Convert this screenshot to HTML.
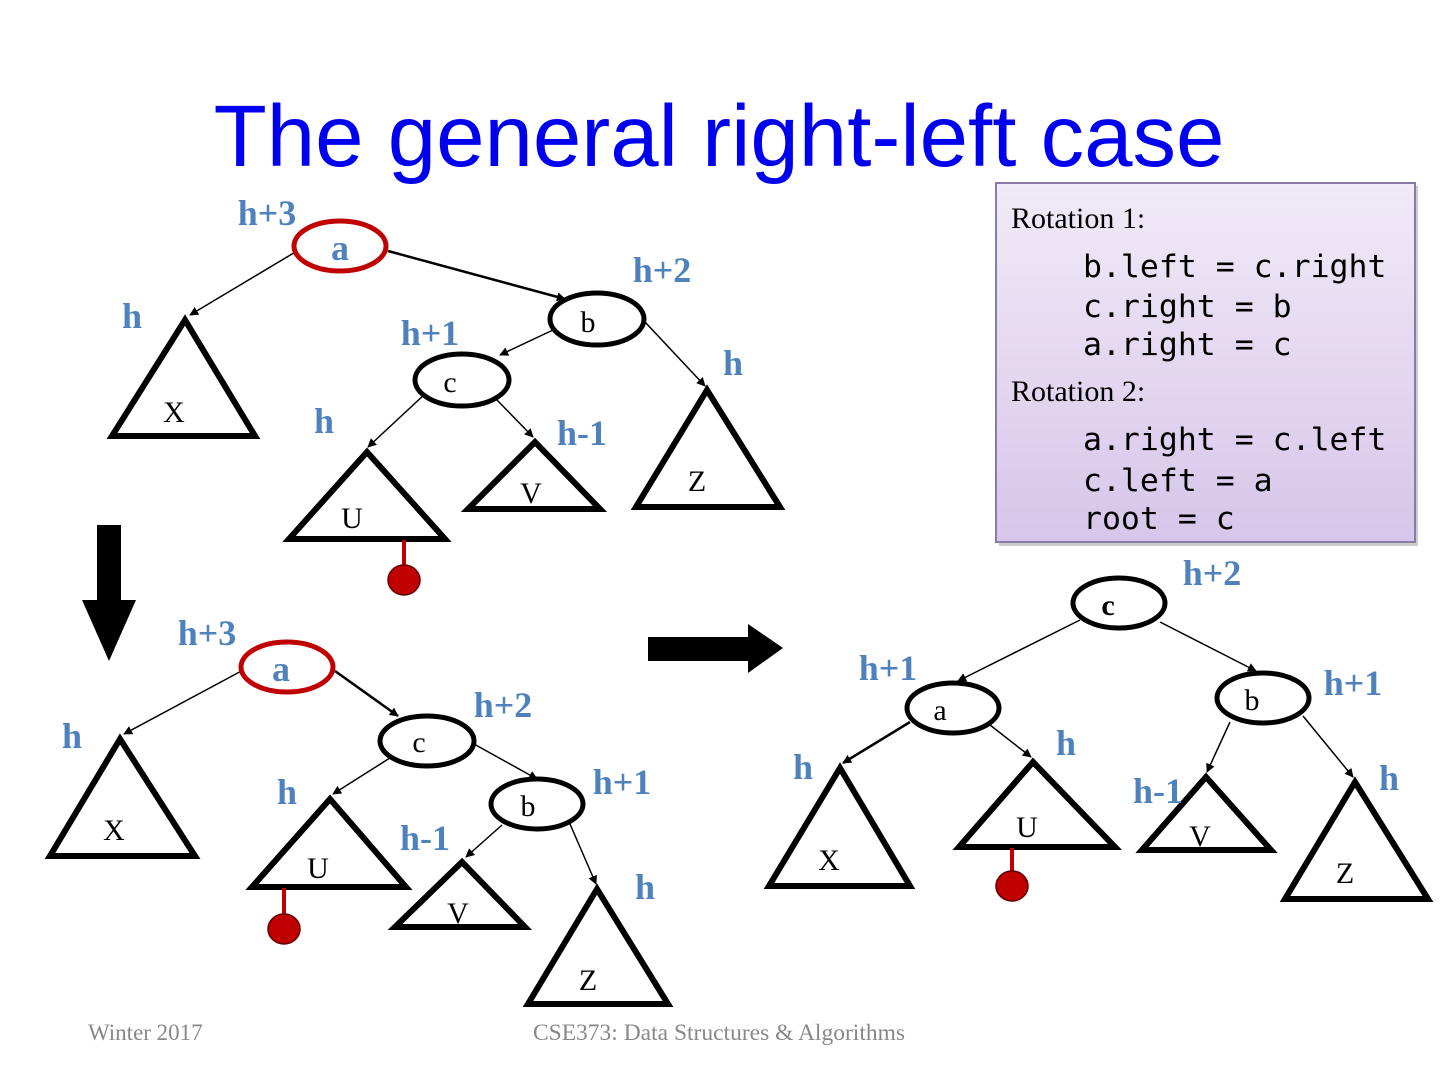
<!DOCTYPE html>
<html><head><meta charset="utf-8"><style>
html,body{margin:0;padding:0;background:#fff}
svg{display:block}
.t{font-family:"Liberation Serif",serif;font-size:30px;fill:#000}
.l{font-family:"Liberation Serif",serif;font-weight:bold;font-size:36px;fill:#4f81bd}
.m{font-family:"DejaVu Sans Mono","Liberation Mono",monospace;font-size:31.5px;fill:#000}
</style></head><body>
<svg width="1440" height="1080" viewBox="0 0 1440 1080" xmlns="http://www.w3.org/2000/svg">
<defs>
<marker id="ar" viewBox="0 0 10 10" refX="9" refY="5" markerWidth="9" markerHeight="9" orient="auto" markerUnits="userSpaceOnUse"><path d="M0,0 L10,5 L0,10 z" fill="#000"/></marker>
<linearGradient id="g" x1="0" y1="0" x2="0" y2="1"><stop offset="0" stop-color="#f1eaf7"/><stop offset="1" stop-color="#d6c6ea"/></linearGradient>
</defs>
<text x="719" y="166" text-anchor="middle" font-family="Liberation Sans,sans-serif" font-size="87" fill="#0000f0">The general right-left case</text>

<rect x="999" y="186" width="419" height="360" fill="#999" opacity="0.5"/>
<rect x="996" y="183" width="419" height="359" fill="url(#g)" stroke="#8a7aa8" stroke-width="2"/>
<text x="1011" y="228" class="t" font-size="35">Rotation 1:</text>
<text x="1083" y="277" class="m">b.left = c.right</text>
<text x="1083" y="317" class="m">c.right = b</text>
<text x="1083" y="355" class="m">a.right = c</text>
<text x="1011" y="401" class="t" font-size="35">Rotation 2:</text>
<text x="1083" y="450" class="m">a.right = c.left</text>
<text x="1083" y="491" class="m">c.left = a</text>
<text x="1083" y="529" class="m">root = c</text>

<g stroke="#000" stroke-width="1.5" fill="none">
<line x1="302" y1="248" x2="190" y2="315" marker-end="url(#ar)"/>
<line x1="388" y1="251" x2="565" y2="299" stroke-width="2.5" marker-end="url(#ar)"/>
<line x1="553" y1="330" x2="500" y2="355" marker-end="url(#ar)"/>
<line x1="645" y1="322" x2="705" y2="386" marker-end="url(#ar)"/>
<line x1="425" y1="394" x2="368" y2="447" marker-end="url(#ar)"/>
<line x1="496" y1="399" x2="533" y2="437" marker-end="url(#ar)"/>
<line x1="247" y1="668" x2="124" y2="734" marker-end="url(#ar)"/>
<line x1="335" y1="671" x2="398" y2="716" stroke-width="2.5" marker-end="url(#ar)"/>
<line x1="393" y1="756" x2="333" y2="794" marker-end="url(#ar)"/>
<line x1="474" y1="744" x2="537" y2="779" marker-end="url(#ar)"/>
<line x1="502" y1="825" x2="466" y2="857" marker-end="url(#ar)"/>
<line x1="570" y1="824" x2="596" y2="884" marker-end="url(#ar)"/>
<line x1="1080" y1="620" x2="958" y2="681" marker-end="url(#ar)"/>
<line x1="1160" y1="622" x2="1256" y2="671" marker-end="url(#ar)"/>
<line x1="910" y1="722" x2="843" y2="763" stroke-width="2.5" marker-end="url(#ar)"/>
<line x1="990" y1="725" x2="1031" y2="757" marker-end="url(#ar)"/>
<line x1="1230" y1="722" x2="1207" y2="772" marker-end="url(#ar)"/>
<line x1="1303" y1="716" x2="1353" y2="777" marker-end="url(#ar)"/>
</g>

<g stroke="#000" stroke-width="6" fill="#fff" stroke-linejoin="miter">
<polygon points="185,320 112,436 255,436"/>
<polygon points="367,452 289,539 445,539"/>
<polygon points="535,442 468,509 600,509"/>
<polygon points="707,390 636,507 780,507"/>
<polygon points="120,739 50,856 195,856"/>
<polygon points="330,799 252,887 406,887"/>
<polygon points="462,862 395,927 525,927"/>
<polygon points="597,889 528,1004 668,1004"/>
<polygon points="840,768 769,886 910,886"/>
<polygon points="1033,762 959,847 1115,847"/>
<polygon points="1206,777 1142,850 1271,850"/>
<polygon points="1355,782 1285,899 1428,899"/>
</g>
<g stroke="#000" stroke-width="5" fill="#fff">
<ellipse cx="597" cy="319" rx="47" ry="26"/>
<ellipse cx="462" cy="380" rx="47" ry="26"/>
<ellipse cx="427" cy="741" rx="47" ry="25"/>
<ellipse cx="537" cy="804" rx="46" ry="25"/>
<ellipse cx="1119" cy="603" rx="46" ry="25"/>
<ellipse cx="953" cy="708" rx="46" ry="25"/>
<ellipse cx="1263" cy="698" rx="46" ry="25"/>
</g>
<g stroke="#c00000" stroke-width="5" fill="#fff">
<ellipse cx="340" cy="246" rx="46" ry="25"/>
<ellipse cx="287" cy="667" rx="46" ry="25"/>
</g>
<g stroke="#c00000" stroke-width="4">
<line x1="404" y1="540" x2="404" y2="566"/>
<line x1="284" y1="888" x2="284" y2="914"/>
<line x1="1012" y1="848" x2="1012" y2="872"/>
</g>
<g fill="#c00000" stroke="#600" stroke-width="1.5">
<ellipse cx="404" cy="580" rx="16" ry="15"/>
<ellipse cx="284" cy="929" rx="16" ry="15"/>
<ellipse cx="1012" cy="886" rx="16" ry="15"/>
</g>

<rect x="97" y="525" width="24" height="76" fill="#000"/>
<polygon points="82,600 136,600 109,661" fill="#000"/>
<rect x="648" y="637" width="102" height="24" fill="#000"/>
<polygon points="748,624 748,673 783,648" fill="#000"/>

<text x="340" y="260" text-anchor="middle" class="l" font-size="33">a</text>
<text x="588" y="332" text-anchor="middle" class="t" font-size="32">b</text>
<text x="450" y="392" text-anchor="middle" class="t" font-size="32">c</text>
<text x="281" y="681" text-anchor="middle" class="l" font-size="33">a</text>
<text x="419" y="752" text-anchor="middle" class="t" font-size="32">c</text>
<text x="528" y="816" text-anchor="middle" class="t" font-size="32">b</text>
<text x="1108" y="615" text-anchor="middle" class="t" font-size="32" font-weight="bold">c</text>
<text x="940" y="720" text-anchor="middle" class="t" font-size="32">a</text>
<text x="1252" y="710" text-anchor="middle" class="t" font-size="32">b</text>

<text x="174" y="422" text-anchor="middle" class="t" font-size="32">X</text>
<text x="352" y="528" text-anchor="middle" class="t" font-size="32">U</text>
<text x="531" y="503" text-anchor="middle" class="t" font-size="32">V</text>
<text x="697" y="491" text-anchor="middle" class="t" font-size="32">Z</text>
<text x="114" y="840" text-anchor="middle" class="t" font-size="32">X</text>
<text x="318" y="878" text-anchor="middle" class="t" font-size="32">U</text>
<text x="458" y="923" text-anchor="middle" class="t" font-size="32">V</text>
<text x="588" y="990" text-anchor="middle" class="t" font-size="32">Z</text>
<text x="829" y="870" text-anchor="middle" class="t" font-size="32">X</text>
<text x="1027" y="837" text-anchor="middle" class="t" font-size="32">U</text>
<text x="1200" y="846" text-anchor="middle" class="t" font-size="32">V</text>
<text x="1345" y="883" text-anchor="middle" class="t" font-size="32">Z</text>

<text x="267" y="225" text-anchor="middle" class="l">h+3</text>
<text x="662" y="282" text-anchor="middle" class="l">h+2</text>
<text x="132" y="328" text-anchor="middle" class="l">h</text>
<text x="430" y="345" text-anchor="middle" class="l">h+1</text>
<text x="733" y="375" text-anchor="middle" class="l">h</text>
<text x="324" y="433" text-anchor="middle" class="l">h</text>
<text x="582" y="445" text-anchor="middle" class="l">h-1</text>
<text x="207" y="645" text-anchor="middle" class="l">h+3</text>
<text x="503" y="717" text-anchor="middle" class="l">h+2</text>
<text x="72" y="748" text-anchor="middle" class="l">h</text>
<text x="622" y="794" text-anchor="middle" class="l">h+1</text>
<text x="287" y="804" text-anchor="middle" class="l">h</text>
<text x="425" y="850" text-anchor="middle" class="l">h-1</text>
<text x="645" y="899" text-anchor="middle" class="l">h</text>
<text x="1212" y="585" text-anchor="middle" class="l">h+2</text>
<text x="888" y="680" text-anchor="middle" class="l">h+1</text>
<text x="1353" y="695" text-anchor="middle" class="l">h+1</text>
<text x="1066" y="755" text-anchor="middle" class="l">h</text>
<text x="803" y="779" text-anchor="middle" class="l">h</text>
<text x="1389" y="790" text-anchor="middle" class="l">h</text>
<text x="1158" y="803" text-anchor="middle" class="l">h-1</text>

<text x="88" y="1040" font-family="Liberation Serif,serif" font-size="23" fill="#888">Winter 2017</text>
<text x="719" y="1040" text-anchor="middle" font-family="Liberation Serif,serif" font-size="23.5" fill="#888">CSE373: Data Structures &amp; Algorithms</text>
</svg>
</body></html>
